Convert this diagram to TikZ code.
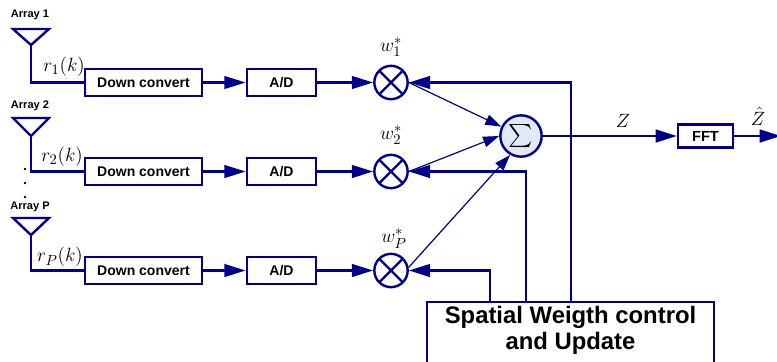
\documentclass[tikz,border=0pt]{standalone}
\usepackage{amsmath}
\usepackage{fontspec}
\setsansfont{Liberation Sans}
\usepackage{tikz}
\usetikzlibrary{arrows.meta}
\definecolor{arrayblue}{RGB}{0,0,140}
\definecolor{sumfill}{RGB}{226,233,246}

\begin{document}
\begin{tikzpicture}[x=0.75pt, y=-0.75pt, color=arrayblue, line width=1.8pt,
  >={Triangle[length=16pt,width=9.5pt]},
  blk/.style={draw, text=black, inner sep=0pt, minimum height=20pt,
    font=\sffamily\bfseries\fontsize{10.5}{12}\selectfont},
  arraylbl/.style={text=black, inner sep=0pt, font=\sffamily\bfseries\fontsize{8.3}{10}\selectfont},
  mlbl/.style={text=black, inner sep=0pt, font=\fontsize{15.5}{17}\selectfont},
  mult/.style={draw, circle, minimum size=25pt, inner sep=0pt,
    path picture={\draw (path picture bounding box.north west) -- (path picture bounding box.south east)
      (path picture bounding box.north east) -- (path picture bounding box.south west);}},
  sumnode/.style={draw, circle, fill=sumfill, text=black, minimum size=31pt, inner sep=0pt,
    font=\fontsize{18}{20}\selectfont},
  thinarr/.style={line width=0.9pt, -{Triangle[length=12pt,width=8pt]}},
  dot/.style={circle, fill=black, inner sep=0pt, minimum size=2pt}]
 \useasboundingbox (0,0) rectangle (777,361);

 % antennas
 \node[arraylbl] (a1) at (30,15) {Array 1};
 \node[arraylbl] (a2) at (30,106) {Array 2};
 \node[arraylbl] (aP) at (30,207) {Array P};
 \draw (13,29) -- (49,29) -- (31,45) -- cycle;
 \draw (13,118) -- (49,118) -- (31,136) -- cycle;
 \draw (13,218) -- (49,218) -- (31,235) -- cycle;
 \coordinate (t1) at (31,45);
 \coordinate (t2) at (31,136);
 \coordinate (tP) at (31,235);
 \node[dot] (d1) at (25,169) {};
 \node[dot] (d2) at (25,183) {};
 \node[dot] (d3) at (25,197) {};

 % branches
 \node[blk, minimum width=88pt] (dc1) at (143.5,82.5) {Down convert};
 \node[blk, minimum width=88pt] (dc2) at (143.5,171.5) {Down convert};
 \node[blk, minimum width=88pt] (dcP) at (143.5,270.5) {Down convert};
 \node[blk, minimum width=52pt] (ad1) at (281.5,82.5) {A/D};
 \node[blk, minimum width=52pt] (ad2) at (281.5,171.5) {A/D};
 \node[blk, minimum width=52pt] (adP) at (281.5,270.5) {A/D};
 \node[mult] (m1) at (391,82.5) {};
 \node[mult] (m2) at (391,171.5) {};
 \node[mult] (mP) at (391,270.5) {};
 \node[mlbl] (r1) at (64,67) {$r_1(k)$};
 \node[mlbl] (r2) at (62,157) {$r_2(k)$};
 \node[mlbl] (rP) at (60,257) {$r_P(k)$};
 \node[mlbl] (w1) at (391,47) {$w_1^*$};
 \node[mlbl] (w2) at (391,135) {$w_2^*$};
 \node[mlbl] (wP) at (394,239) {$w_P^*$};

 \draw (t1) |- (dc1.west);
 \draw (t2) |- (dc2.west);
 \draw (tP) |- (dcP.west);
 \draw[->] (dc1) -- (ad1);
 \draw[->] (dc2) -- (ad2);
 \draw[->] (dcP) -- (adP);
 \draw[->] (ad1) -- (m1);
 \draw[->] (ad2) -- (m2);
 \draw[->] (adP) -- (mP);

 % combiner and output
 \node[sumnode] (sum) at (521,136) {$\sum$};
 \node[blk, minimum width=41pt, minimum height=17pt, font=\sffamily\bfseries\fontsize{11}{12}\selectfont] (fft) at (705.5,136) {FFT};
 \coordinate (out) at (781,136);
 \node[mlbl] (zlbl) at (623,121) {$Z$};
 \node[mlbl] (zhat) at (758,116) {$\hat{Z}$};
 \draw[thinarr] (m1.east) -- (sum);
 \draw[thinarr] (m2.east) -- (sum.west);
 \draw[thinarr] (mP.10) -- (sum.240);
 \draw[->] (sum) -- (fft);
 \draw[->] (fft) -- (out);

 % weight update
 \node[draw, anchor=north, minimum width=215.5pt, minimum height=60pt] (ctrl) at (570.5,301) {};
 \node[text=black, align=center, font=\sffamily\bfseries\fontsize{17.9}{19.5}\selectfont] (ctrltxt) at (570.5,330) {Spatial Weigth control\\and Update};
 \coordinate (f1) at (571,301);
 \coordinate (f2) at (526,301);
 \coordinate (f3) at (490,301);
 \draw[->] (f1) |- (m1);
 \draw[->] (f2) |- (m2);
 \draw[->] (f3) |- (mP);
\end{tikzpicture}
\end{document}
